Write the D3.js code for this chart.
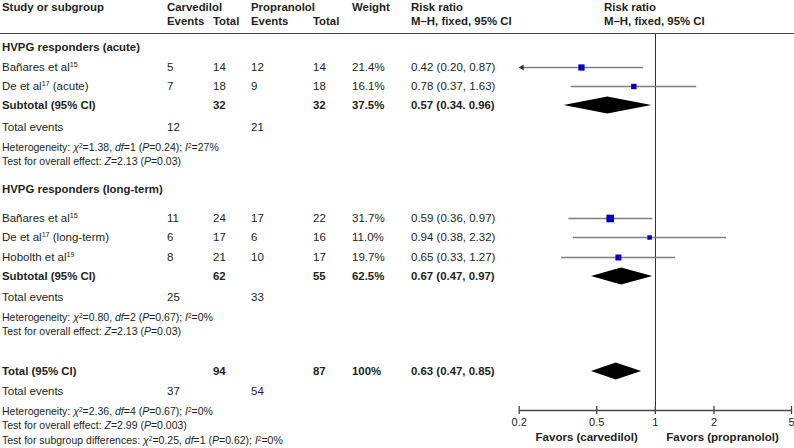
<!DOCTYPE html>
<html><head><meta charset="utf-8">
<script src="https://cdn.jsdelivr.net/npm/d3@7"></script>
<style>
html,body{margin:0;padding:0;background:#fff;}
text{font-family:"Liberation Sans",Arial,sans-serif;fill:#231f20;}
</style></head>
<body>
<svg id="chart" width="794" height="448"></svg>
<script>
// ---- data ----
const studyNames = ["Bañares et al|15", "De et al|17| (acute)", "Bañares et al|15", "De et al|17| (long-term)", "Hobolth et al|19"];
const studyGroup = [0, 0, 1, 1, 1];
const carvEvents = [5, 7, 11, 6, 8];
const carvTotal = [14, 18, 24, 17, 21];
const propEvents = [12, 9, 17, 6, 10];
const propTotal = [14, 18, 22, 16, 17];
const weights = [21.4, 16.1, 31.7, 11.0, 19.7];
const rr = [0.42, 0.78, 0.59, 0.94, 0.65];
const rrLo = [0.20, 0.37, 0.36, 0.38, 0.33];
const rrHi = [0.87, 1.63, 0.97, 2.32, 1.27];
const rrText = ["0.42 (0.20, 0.87)", "0.78 (0.37, 1.63)", "0.59 (0.36, 0.97)", "0.94 (0.38, 2.32)", "0.65 (0.33, 1.27)"];

const groupNames = ["HVPG responders (acute)", "HVPG responders (long-term)"];
const subCarvTotal = [32, 62];
const subPropTotal = [32, 55];
const subWeight = ["37.5%", "62.5%"];
const subRR = [0.57, 0.67];
const subLo = [0.34, 0.47];
const subHi = [0.96, 0.97];
const subText = ["0.57 (0.34. 0.96)", "0.67 (0.47, 0.97)"];
const subCarvEvents = [12, 25];
const subPropEvents = [21, 33];
const subHet = [["1.38", "1", "0.24", "27%"], ["0.80", "2", "0.67", "0%"]];
const subZ = [["2.13", "0.03"], ["2.13", "0.03"]];

const totCarv = 94, totProp = 87, totWeight = "100%";
const totRR = 0.63, totLo = 0.47, totHi = 0.85, totText = "0.63 (0.47, 0.85)";
const totCarvEvents = 37, totPropEvents = 54;
const totHet = ["2.36", "4", "0.67", "0%"];
const totZ = ["2.99", "0.003"];
const subgroupDiff = ["0.25", "1", "0.62", "0%"];

const axisTicks = [0.2, 0.5, 1, 2, 5];
const axisTickLabels = ["0.2", "0.5", "1", "2", "5"];

// ---- layout ----
const svg = d3.select("#chart");
const FS = 11.5, FB = 11.4, FH = 10.5;
const col = {study: 2, cEv: 167, cTot: 213, pEv: 251, pTot: 313, wt: 352, rr: 411, rr2: 604};
const x = d3.scaleLog().domain([0.2, 5]).range([518.7, 791]);
const studyY = [67, 86, 218, 237, 257];
const groupY = [47, 189];
const subY = [105, 276];
const subEvY = [127, 297];
const subHetY = [147, 317];
const subZY = [161, 331];
const totY = 371, totEvY = 391, totHetY = 411, totZY = 425, diffY = 440;
const axisY = 410;

function txt(xp, yp, s, bold, size) {
  return svg.append("text").attr("x", xp).attr("y", yp).attr("dy", "0.35em")
    .style("font-size", (size || (bold ? FB : FS)) + "px").style("font-weight", bold ? "bold" : "normal").text(s);
}
function richText(xp, yp, parts, size) {
  const fs = size || FS;
  const t = svg.append("text").attr("x", xp).attr("y", yp).attr("dy", "0.35em").style("font-size", fs + "px");
  parts.forEach(p => {
    const ts = t.append("tspan").text(p[0]);
    if (p[1] === "i") ts.style("font-style", "italic");
    if (p[1] === "sup") ts.style("font-size", (fs * 0.62) + "px").attr("baseline-shift", "super");
  });
  return t;
}
function hetLine(yp, h, label) {
  richText(col.study, yp, [[label || "Heterogeneity: ", "n"], ["χ", "i"], ["2", "sup"], ["=" + h[0] + ", ", "n"], ["df", "i"],
    ["=" + h[1] + " (", "n"], ["P", "i"], ["=" + h[2] + "); ", "n"], ["I", "i"], ["2", "sup"], ["=" + h[3], "n"]], FH);
}
function zLine(yp, z) {
  richText(col.study, yp, [["Test for overall effect: ", "n"], ["Z", "i"], ["=" + z[0] + " (", "n"], ["P", "i"], ["=" + z[1] + ")", "n"]], FH);
}

// header
txt(col.study, 7, "Study or subgroup", true);
txt(col.cEv, 7, "Carvedilol", true);
txt(col.cEv, 21, "Events", true);
txt(col.cTot, 21, "Total", true);
txt(col.pEv, 7, "Propranolol", true);
txt(col.pEv, 21, "Events", true);
txt(col.pTot, 21, "Total", true);
txt(col.wt, 7, "Weight", true);
txt(col.rr, 7, "Risk ratio", true);
txt(col.rr, 21, "M–H, fixed, 95% CI", true);
txt(col.rr2, 7, "Risk ratio", true);
txt(col.rr2, 21, "M–H, fixed, 95% CI", true);
svg.append("line").attr("x1", 0).attr("x2", 794).attr("y1", 33.5).attr("y2", 33.5)
  .attr("stroke", "#444").attr("stroke-width", 1);

// vertical line at 1
svg.append("line").attr("x1", Math.round(x(1)) + 0.5).attr("x2", Math.round(x(1)) + 0.5)
  .attr("y1", 34).attr("y2", axisY).attr("stroke", "#333").attr("stroke-width", 1);

// groups
groupNames.forEach((g, i) => {
  txt(col.study, groupY[i], g, true);
  txt(col.study, subY[i], "Subtotal (95% CI)", true);
  txt(col.cTot, subY[i], subCarvTotal[i], true);
  txt(col.pTot, subY[i], subPropTotal[i], true);
  txt(col.wt, subY[i], subWeight[i], true);
  txt(col.rr, subY[i], subText[i], true);
  txt(col.study, subEvY[i], "Total events");
  txt(col.cEv, subEvY[i], subCarvEvents[i]);
  txt(col.pEv, subEvY[i], subPropEvents[i]);
  hetLine(subHetY[i], subHet[i]);
  zLine(subZY[i], subZ[i]);
});

function diamond(c, lo, hi, yp) {
  const h = 8.5;
  svg.append("path").attr("d", `M${x(lo)},${yp}L${x(c)},${yp - h}L${x(hi)},${yp}L${x(c)},${yp + h}Z`).attr("fill", "#000");
}

// studies
studyNames.forEach((s, i) => {
  const parts = s.split("|");
  richText(col.study, studyY[i], parts.map((p, k) => [p, k === 1 ? "sup" : "n"]));
  txt(col.cEv, studyY[i], carvEvents[i]);
  txt(col.cTot, studyY[i], carvTotal[i]);
  txt(col.pEv, studyY[i], propEvents[i]);
  txt(col.pTot, studyY[i], propTotal[i]);
  txt(col.wt, studyY[i], weights[i].toFixed(1) + "%");
  txt(col.rr, studyY[i], rrText[i]);
  const lo = Math.max(rrLo[i], 0.2);
  const hi = Math.min(rrHi[i], 5);
  svg.append("line").attr("x1", x(lo) + (rrLo[i] <= 0.2 ? 3 : 0)).attr("x2", x(hi)).attr("y1", studyY[i] + 0.5).attr("y2", studyY[i] + 0.5)
    .attr("stroke", "#7f7f7f").attr("stroke-width", 1.5);
  if (rrLo[i] <= 0.2) {
    const ax = x(0.2);
    svg.append("path").attr("d", `M${ax},${studyY[i] + 0.5}L${ax + 5},${studyY[i] - 2.5}L${ax + 5},${studyY[i] + 3.5}Z`).attr("fill", "#333");
  }
  const sz = Math.sqrt(weights[i]) * 1.35;
  svg.append("rect").attr("x", x(rr[i]) - sz / 2).attr("y", studyY[i] + 0.5 - sz / 2).attr("width", sz).attr("height", sz).attr("fill", "#0000c0");
});
subY.forEach((yp, i) => diamond(subRR[i], subLo[i], subHi[i], yp));

// total
txt(col.study, totY, "Total (95% CI)", true);
txt(col.cTot, totY, totCarv, true);
txt(col.pTot, totY, totProp, true);
txt(col.wt, totY, totWeight, true);
txt(col.rr, totY, totText, true);
diamond(totRR, totLo, totHi, totY);
txt(col.study, totEvY, "Total events");
txt(col.cEv, totEvY, totCarvEvents);
txt(col.pEv, totEvY, totPropEvents);
hetLine(totHetY, totHet);
zLine(totZY, totZ);
hetLine(diffY, subgroupDiff, "Test for subgroup differences: ");

// axis
const axis = d3.axisBottom(x).tickValues(axisTicks).tickFormat((d, i) => axisTickLabels[i]).tickSize(0).tickPadding(8);
const ag = svg.append("g").attr("transform", `translate(0,${axisY})`).call(axis);
ag.select(".domain").attr("stroke", "#444").attr("stroke-width", 1.3);
ag.selectAll(".tick line").attr("y1", -4).attr("y2", 4).attr("stroke", "#444").attr("stroke-width", 1.3);
ag.selectAll(".tick text").style("font-size", "11px").style("font-family", "Liberation Sans, Arial, sans-serif").attr("fill", "#231f20");
svg.append("text").attr("x", x(1) - 17).attr("y", 437).attr("dy", "0.35em").attr("text-anchor", "end")
  .style("font-size", "11.5px").style("font-weight", "bold").text("Favors (carvedilol)");
svg.append("text").attr("x", x(1) + 11.5).attr("y", 437).attr("dy", "0.35em")
  .style("font-size", "11.5px").style("font-weight", "bold").text("Favors (propranolol)");
</script>
</body></html>
